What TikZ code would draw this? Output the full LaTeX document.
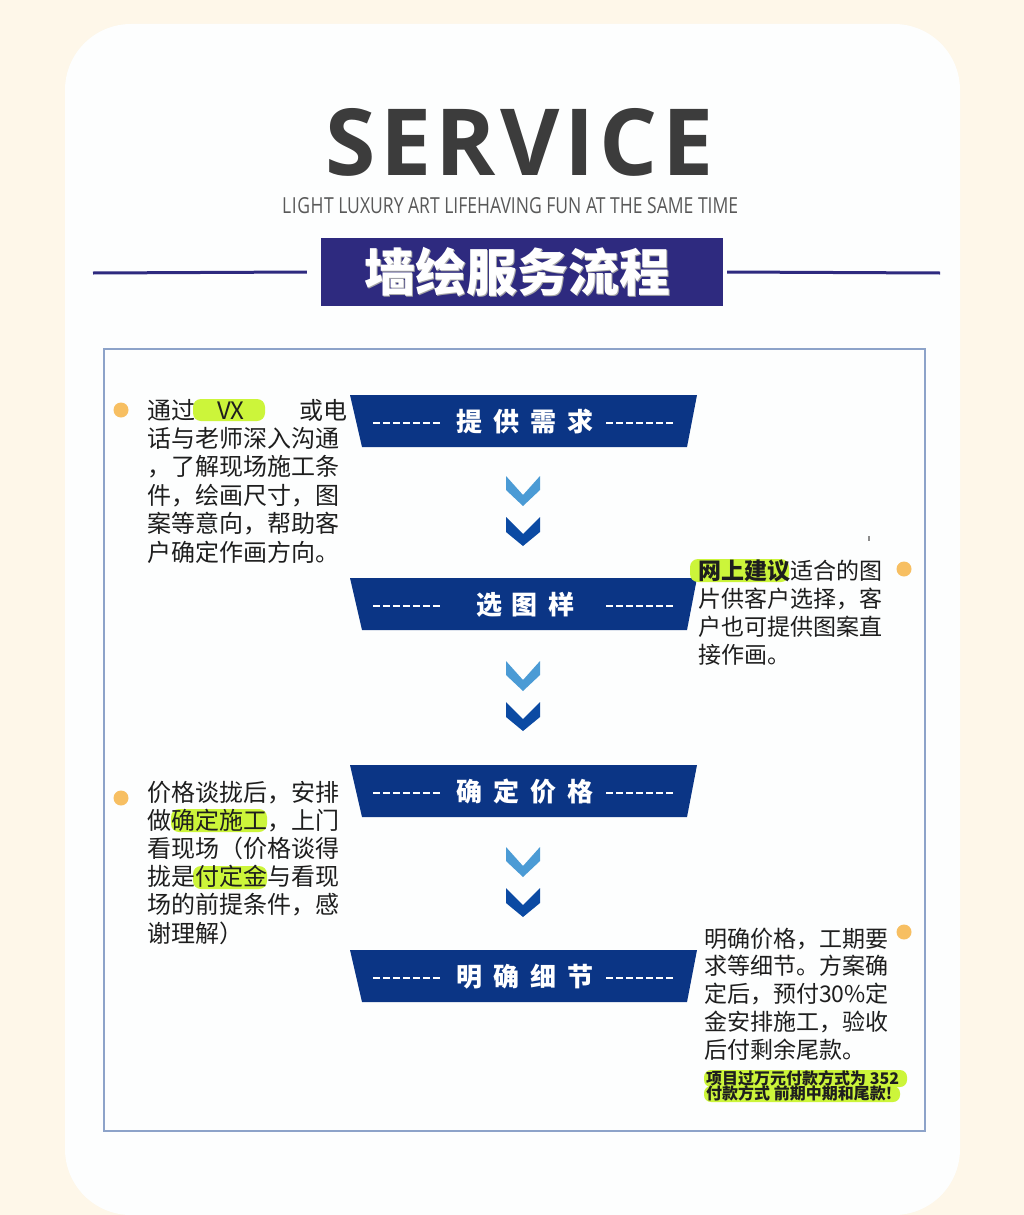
\documentclass[tikz,border=0pt]{standalone}
\usepackage{fontspec}
\usepackage{graphicx}
\newfontfamily\cjk{Noto Sans CJK SC}
\newfontfamily\osans{Open Sans}
\definecolor{cream}{HTML}{FEF7E9}
\definecolor{cardw}{HTML}{FDFEFE}
\definecolor{framec}{HTML}{8DA3C9}
\definecolor{indigo}{HTML}{2E2A7F}
\definecolor{bannerblue}{HTML}{0B3585}
\definecolor{chevlight}{HTML}{4B9BD5}
\definecolor{chevdark}{HTML}{0B4AA3}
\definecolor{lime}{HTML}{CCF53A}
\definecolor{dotc}{HTML}{F7BF62}
\definecolor{txtc}{HTML}{1E1E1E}
\definecolor{servc}{HTML}{3C3C3C}
\newcommand\bsp{\hspace{11pt}}
\newcommand\bsq{\hspace{10pt}}
\begin{document}
\begin{tikzpicture}[x=1pt,y=-1pt,
  ltxt/.style={inner sep=0pt,anchor=base west,text=txtc,font=\cjk\fontsize{24}{28}\selectfont},
  rtxt/.style={inner sep=0pt,anchor=base west,text=txtc,font=\cjk\fontsize{23}{28}\selectfont},
  smalltxt/.style={inner sep=0pt,anchor=base west,text=txtc,font=\cjk\bfseries\fontsize{16}{16}\selectfont},
  bannertxt/.style={inner sep=0pt,text=white,font=\cjk\bfseries\fontsize{26}{26}\selectfont},
  dashline/.style={draw=white,line width=1.1pt,dash pattern=on 7pt off 3pt},
  bannerfill/.style={fill=bannerblue},
  hl/.style={fill=lime,rounded corners=8pt},
  dot/.style={circle,fill=dotc,inner sep=0pt,minimum size=15pt},
  titleline/.style={draw=indigo,line width=3pt},
  chevl/.style={fill=chevlight},
  chevd/.style={fill=chevdark}
]
\useasboundingbox (0,0) rectangle (1024,1215);
\fill[cream] (0,0) rectangle (1024,1215);
\fill[cardw,rounded corners=66pt] (65,24) rectangle (960,1215);

% heading
\node[inner sep=0pt,anchor=base west,text=servc] (service) at (325,175)
  {\resizebox{388pt}{67pt}{\osans\bfseries\fontsize{10}{12}\selectfont S\kern.5pt E\kern.5pt R\kern.5pt V\kern.5pt I\kern.5pt C\kern.5pt E}};
\node[inner sep=0pt,anchor=base west,text=servc!85] (subtitle) at (282,213)
  {\resizebox{456pt}{16pt}{\osans\fontsize{10}{12}\selectfont L\kern.3pt I\kern.3pt G\kern.3pt H\kern.3pt T LUXURY ART LIFEHAVING FUN AT THE SAME TIME}};

% title banner
\node[fill=indigo,minimum width=402pt,minimum height=68pt,inner sep=0pt] (title) at (522,272) {};
\node[inner sep=0pt,text=black!35,font=\cjk\bfseries\fontsize{51}{51}\selectfont] (titleshadow) at (518,273) {墙绘服务流程};
\node[inner sep=0pt,text=white,font=\cjk\bfseries\fontsize{51}{51}\selectfont] (titletext) at (517,272) {墙绘服务流程};
\coordinate (tl1) at ([xshift=-14pt]title.west);
\coordinate (tl2) at (93,273);
\coordinate (tr1) at ([xshift=4pt]title.east);
\coordinate (tr2) at (940,273);
\draw[titleline] (tl1) -- (tl2);
\draw[titleline] (tr1) -- (tr2);

% frame
\draw[framec,line width=2.5pt] (104,349) rectangle (925,1131);

% banners
\foreach \y/\txt/\nm in {395/{提\bsp 供\bsp 需\bsp 求}/b1, 578/{选\bsq 图\bsq 样}/b2, 765/{确\bsp 定\bsp 价\bsp 格}/b3, 950/{明\bsp 确\bsp 细\bsp 节}/b4}{
  \path[bannerfill] (350,\y) -- (697,\y) -- (687,\y+52) -- (362,\y+52) -- cycle;
  \node[bannertxt] (\nm) at (525,\y+27) {\txt};
  \draw[dashline] (373,\y+28) -- (443,\y+28);
  \draw[dashline] (606,\y+28) -- (676,\y+28);
}

% chevrons
\foreach \d in {0,185,371}{
  \path[chevl] (506,476+\d) -- (523,495+\d) -- (540,476+\d) -- (540,490+\d) -- (523,506+\d) -- (506,490+\d) -- cycle;
  \path[chevd] (506,517+\d) -- (523,534+\d) -- (540,517+\d) -- (540,532+\d) -- (523,546+\d) -- (506,532+\d) -- cycle;
}

% bullets
\node[dot] (d1) at (121,410) {};
\node[dot] (d2) at (904,569) {};
\node[dot] (d3) at (121,798) {};
\node[dot] (d4) at (904,932) {};

% highlights
\fill[hl] (193,399) rectangle (265,421);
\fill[hl] (690,559) rectangle (789,582);
\fill[hl] (171,809) rectangle (267,832);
\fill[hl] (193,866) rectangle (267,889);
\fill[lime,rounded corners=7pt] (704,1070) rectangle (907,1087);
\fill[lime,rounded corners=7pt] (704,1086) rectangle (900,1102);

% block 1
\node[ltxt] (a0) at (147,419) {通过\makebox[104pt][l]{\hspace{22pt}VX}或电};
\foreach \t [count=\i] in {话与老师深入沟通,，了解现场施工条,件，绘画尺寸，图,案等意向，帮助客,户确定作画方向。}
  \node[ltxt] (a\i) at (147,{419+28.4*\i}) {\t};

% block 2
\node[rtxt] (c0) at (698,579) {{\bfseries 网上建议}适合的图};
\foreach \t [count=\i] in {片供客户选择，客,户也可提供图案直,接作画。}
  \node[rtxt] (c\i) at (698,{579+28*\i}) {\t};

% block 3
\foreach \t [count=\i from 0] in {价格谈拢后，安排,做确定施工，上门,看现场（价格谈得,拢是付定金与看现,场的前提条件，感,谢理解）}
  \node[ltxt] (e\i) at (147,{801+28.2*\i}) {\t};

% block 4
\foreach \t [count=\i from 0] in {明确价格，工期要,求等细节。方案确,定后，预付30\%定,金安排施工，验收,后付剩余尾款。}
  \node[rtxt] (g\i) at (704,{947+27.75*\i}) {\t};
\node[smalltxt] (s1) at (706,1084) {项目过万元付款方式为 352};
\node[smalltxt] (s2) at (706,1099) {付款方式 前期中期和尾款!};

% tiny mark
\draw[black!45,line width=1.2pt] (869,536) -- (869,541);
\end{tikzpicture}
\end{document}
